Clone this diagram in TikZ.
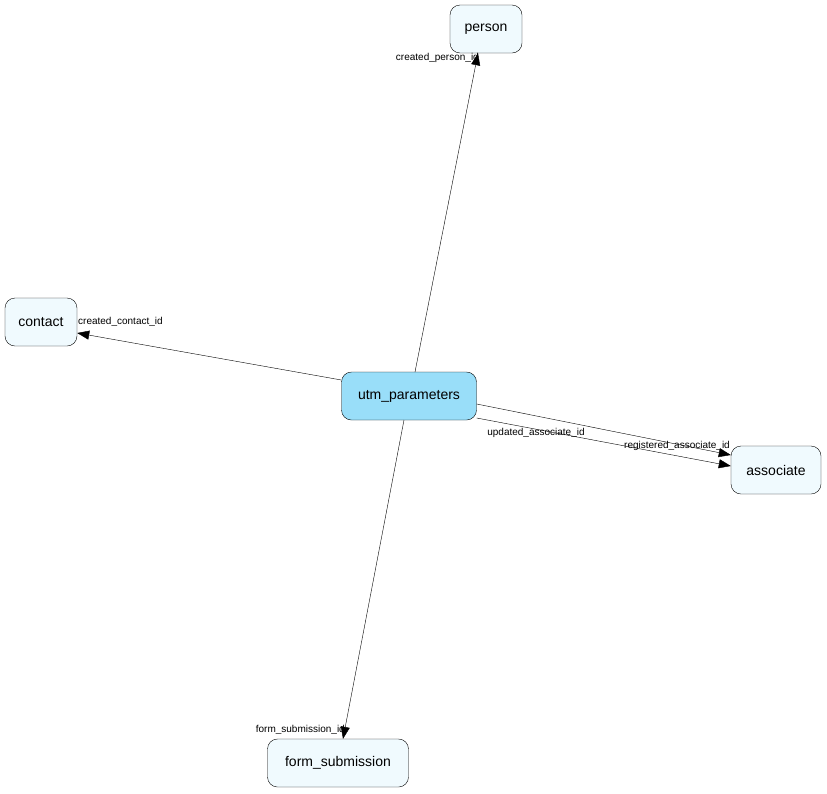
\documentclass[tikz,border=0pt]{standalone}
\usepackage{fontspec}
\setmainfont{Liberation Sans}
\usetikzlibrary{arrows.meta}
\begin{document}
\begin{tikzpicture}[x=1pt,y=-1pt,
  tbl/.style={draw, rounded corners=10pt, fill=cyan!6, minimum height=48pt, font=\fontsize{14}{16}\selectfont, inner sep=0pt},
  fk/.style={-{Triangle[length=12pt,width=9pt]}},
  lbl/.style={font=\fontsize{10}{12}\selectfont, inner sep=1pt}]
\useasboundingbox (0,0) rectangle (827,793);

% Tables
\node[tbl, fill=cyan!40, minimum width=135pt] (utm) at (409,396) {utm\_parameters};
\node[tbl, minimum width=72pt] (person) at (486,29) {person};
\node[tbl, minimum width=72pt] (contact) at (41,322) {contact};
\node[tbl, minimum width=90pt] (associate) at (776,470) {associate};
\node[tbl, minimum width=141pt] (form) at (338,763) {form\_submission};

% Foreign keys
\draw[fk] (415,372) -- (person.south -| 478,0);
\draw[fk] (utm.west |- 0,380) -- (contact.east |- 0,333);
\draw[fk] (utm.east |- 0,404) -- (associate.west |- 0,455);
\draw[fk] (utm.east |- 0,418) -- (associate.west |- 0,466);
\draw[fk] (404,420) -- (form.north -| 343,0);

% Labels
\node[lbl, anchor=east] (l1) at (480,58) {created\_person\_id};
\node[lbl, anchor=west] (l2) at (77,322) {created\_contact\_id};
\node[lbl, anchor=east] (l3) at (731,446) {registered\_associate\_id};
\node[lbl] (l4) at (536,433) {updated\_associate\_id};
\node[lbl, anchor=east] (l5) at (346,730) {form\_submission\_id};
\end{tikzpicture}
\end{document}
